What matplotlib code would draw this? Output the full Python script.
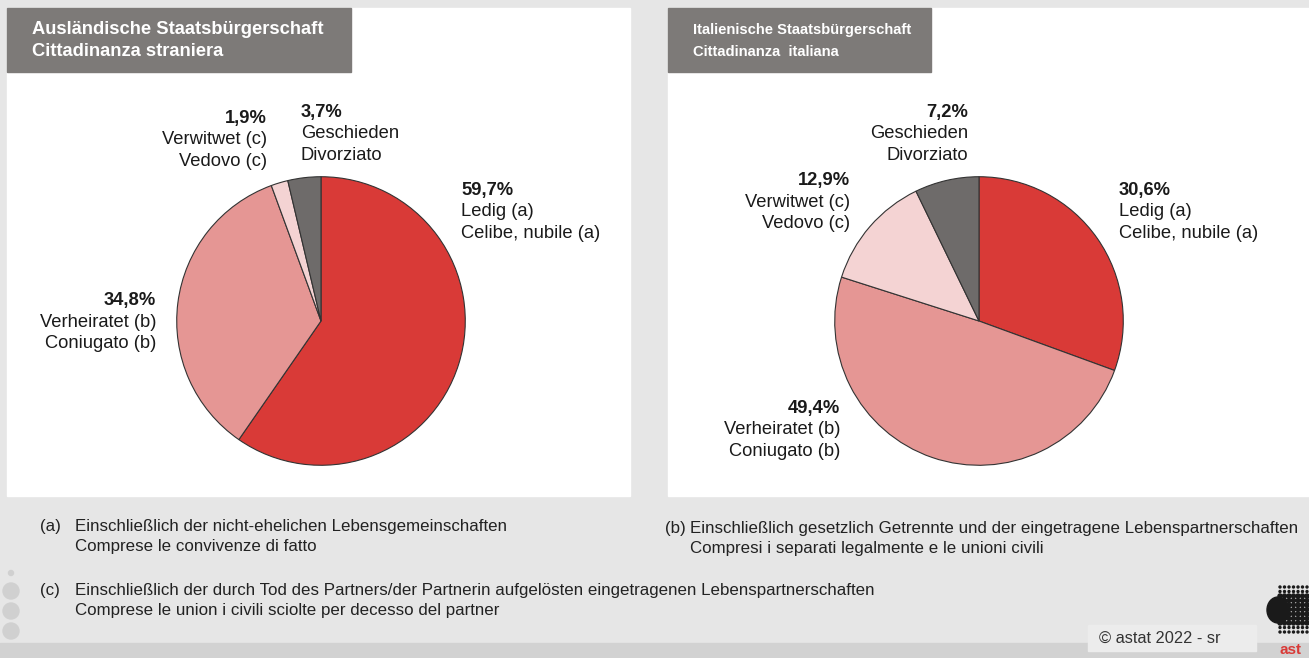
import numpy as np
import matplotlib.pyplot as plt
from matplotlib.patches import Rectangle, Circle, Ellipse

plt.rcParams['font.family'] = ['Liberation Sans', 'DejaVu Sans']

# data
kategorien = ["Ledig", "Verheiratet", "Verwitwet", "Geschieden"]
farben = ["#d93a37", "#e59694", "#f4d3d3", "#6e6b6a"]
auslaender = [59.7, 34.8, 1.9, 3.7]
italiener = [30.6, 49.4, 12.9, 7.2]

titel_links = ["Ausländische Staatsbürgerschaft", "Cittadinanza straniera"]
titel_rechts = ["Italienische Staatsbürgerschaft", "Cittadinanza  italiana"]

namen = [["Ledig (a)", "Celibe, nubile (a)"], ["Verheiratet (b)", "Coniugato (b)"],
         ["Verwitwet (c)", "Vedovo (c)"], ["Geschieden", "Divorziato"]]

fussnoten = [
    ("(a)", ["Einschließlich der nicht-ehelichen Lebensgemeinschaften",
             "Comprese le convivenze di fatto"]),
    ("(b)", ["Einschließlich gesetzlich Getrennte und der eingetragene Lebenspartnerschaften",
             "Compresi i separati legalmente e le unioni civili"]),
    ("(c)", ["Einschließlich der durch Tod des Partners/der Partnerin aufgelösten eingetragenen Lebenspartnerschaften",
             "Comprese le union i civili sciolte per decesso del partner"]),
]

W, H = 1309, 658
fig = plt.figure(figsize=(W / 100, H / 100), dpi=100)
fig.patch.set_facecolor("#e6e6e6")
ax = fig.add_axes([0, 0, 1, 1])
ax.set_xlim(0, W)
ax.set_ylim(H, 0)
ax.axis("off")

# panels
ax.add_patch(Rectangle((7, 8), 623, 488, color="white", zorder=1))
ax.add_patch(Rectangle((668, 8), 641, 488, color="white", zorder=1))
ax.add_patch(Rectangle((7, 8), 344, 64, color="#7d7a78", zorder=2))
ax.add_patch(Rectangle((668, 8), 263, 64, color="#7d7a78", zorder=2))
for k, zeile in enumerate(titel_links):
    ax.text(32, 30 + 22 * k, zeile, color="white", fontsize=13.2, fontweight="bold",
            va="center", zorder=3)
for k, zeile in enumerate(titel_rechts):
    ax.text(693, 30 + 22 * k, zeile, color="white", fontsize=10.6, fontweight="bold",
            va="center", zorder=3)

# bottom bar
ax.add_patch(Rectangle((0, 643), W, 15, color="#d2d2d2", zorder=1))
ax.add_patch(Rectangle((1088, 625), 168, 26, color="#ececec", zorder=2))
ax.text(1099, 638, "© astat 2022 - sr", fontsize=11.8, color="#333333", va="center", zorder=3)

# decorative circles left
for y in [591, 611, 631]:
    ax.add_patch(Circle((11, y), 8, color="#d0d0d0", zorder=2))
ax.add_patch(Circle((11, 573), 2.5, color="#d0d0d0", zorder=2))

# logo approximation
for i in range(7):
    for j in range(11):
        x, y = 1280 + i * 4.5, 587 + j * 4.5
        s = 1.0 if (j < 2 or j > 8) else 2.0
        ax.add_patch(Circle((x, y), s, color="#1a1a1a", zorder=2))
ax.add_patch(Ellipse((1278, 610), 22, 26, color="#1a1a1a", zorder=2))
ax.text(1279, 657, "ast", color="#d93a37", fontsize=11, fontweight="bold", va="bottom", zorder=3)


def torte(cx, cy, r, werte):
    pa = fig.add_axes([(cx - r) / W, 1 - (cy + r) / H, 2 * r / W, 2 * r / H])
    pa.pie(werte, colors=farben, startangle=90, counterclock=False,
           wedgeprops=dict(edgecolor="#333333", linewidth=0.8))
    pa.set_xlim(-1.005, 1.005)
    pa.set_ylim(-1.005, 1.005)
    pa.set_aspect("auto")
    pa.axis("off")


torte(321, 321, 145, auslaender)
torte(979, 321, 145, italiener)


def label(x, y, wert, name, ha="left"):
    pct = f"{wert:.1f}%".replace(".", ",")
    ax.text(x, y, pct, fontsize=13.2, fontweight="bold", ha=ha, va="center", color="#1a1a1a")
    for k, zeile in enumerate(name):
        ax.text(x, y + 21.5 * (k + 1), zeile, fontsize=13.2, ha=ha, va="center", color="#1a1a1a")


# left labels
label(461, 190, auslaender[0], namen[0])
label(156, 301, auslaender[1], namen[1], ha="right")
label(267, 118, auslaender[2], namen[2], ha="right")
label(301, 112, auslaender[3], namen[3])

# right labels
label(1119, 190, italiener[0], namen[0])
label(840, 408, italiener[1], namen[1], ha="right")
label(850, 181, italiener[2], namen[2], ha="right")
label(968, 112, italiener[3], namen[3], ha="right")

# footnotes
fs = 12.2
pos = [(40, 75, 526), (665, 690, 528), (40, 75, 590)]
for (marke, zeilen), (xm, xt, y) in zip(fussnoten, pos):
    ax.text(xm, y, marke, fontsize=fs, va="center", color="#222222")
    for k, zeile in enumerate(zeilen):
        ax.text(xt, y + 21 * k, zeile, fontsize=fs, va="center", color="#222222")

fig.savefig("out.png", dpi=100, facecolor=fig.get_facecolor())
